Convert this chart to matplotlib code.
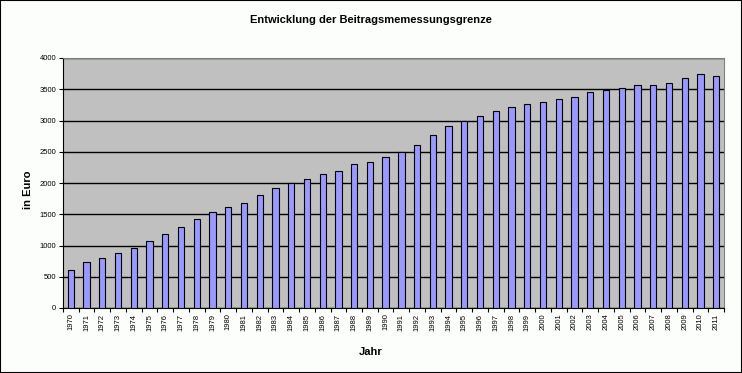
import numpy as np
import matplotlib
matplotlib.use('Agg')
import matplotlib.pyplot as plt
from matplotlib.patches import Rectangle

plt.rcParams['font.family'] = ['Liberation Sans', 'DejaVu Sans']

years = list(range(1970, 2012))
values = [613, 736, 800, 880, 960, 1074, 1186, 1296, 1424, 1536,
          1616, 1680, 1808, 1920, 2000, 2064, 2144, 2192, 2304, 2336,
          2416, 2500, 2608, 2768, 2912, 2992, 3072, 3152, 3216, 3264,
          3296, 3344, 3376, 3450, 3487, 3525, 3562, 3562, 3600, 3675,
          3750, 3712]

fig = plt.figure(figsize=(7.42, 3.73), dpi=100, facecolor='#fcfefc')
ax = fig.add_axes([63/742, 1 - 308/373, 661/742, 250/373])

x = np.arange(len(years))
ax.set_facecolor('#c0c0c0')
ax.bar(x, values, width=0.4, color='#9999ff', edgecolor='black', linewidth=0.8, zorder=3)

ax.set_ylim(0, 4000)
ax.set_yticks(np.arange(0, 4001, 500))
ax.yaxis.grid(True, color='black', linewidth=1, zorder=1)
ax.set_xlim(-0.5, len(years) - 0.5)
ax.set_xticks(x)
ax.set_xticklabels([str(y) for y in years], rotation=90, fontsize=5.5)
ax.set_xticks(np.arange(-0.5, len(years), 1), minor=True)
ax.tick_params(axis='x', which='major', length=0, pad=4)
ax.tick_params(axis='x', which='minor', length=3, width=0.8)
ax.tick_params(axis='y', labelsize=5.5, length=3, width=0.8, pad=2)

for s in ['top', 'right']:
    ax.spines[s].set_color('#808080')
for s in ['left', 'bottom']:
    ax.spines[s].set_color('black')

fig.text(371/742, 1 - 20/373, 'Entwicklung der Beitragsmemessungsgrenze',
         ha='center', va='center', fontsize=8, fontweight='bold')
fig.text(28/742, 1 - 190/373, 'in Euro', rotation=90,
         ha='center', va='center', fontsize=8, fontweight='bold')
fig.text(371/742, 1 - 352/373, 'Jahr',
         ha='center', va='center', fontsize=8, fontweight='bold')

fig.patches.append(Rectangle((0, 0), 1, 1, transform=fig.transFigure,
                             fill=False, edgecolor='black', linewidth=1.5))

plt.savefig('out.png', dpi=100, facecolor=fig.get_facecolor())
